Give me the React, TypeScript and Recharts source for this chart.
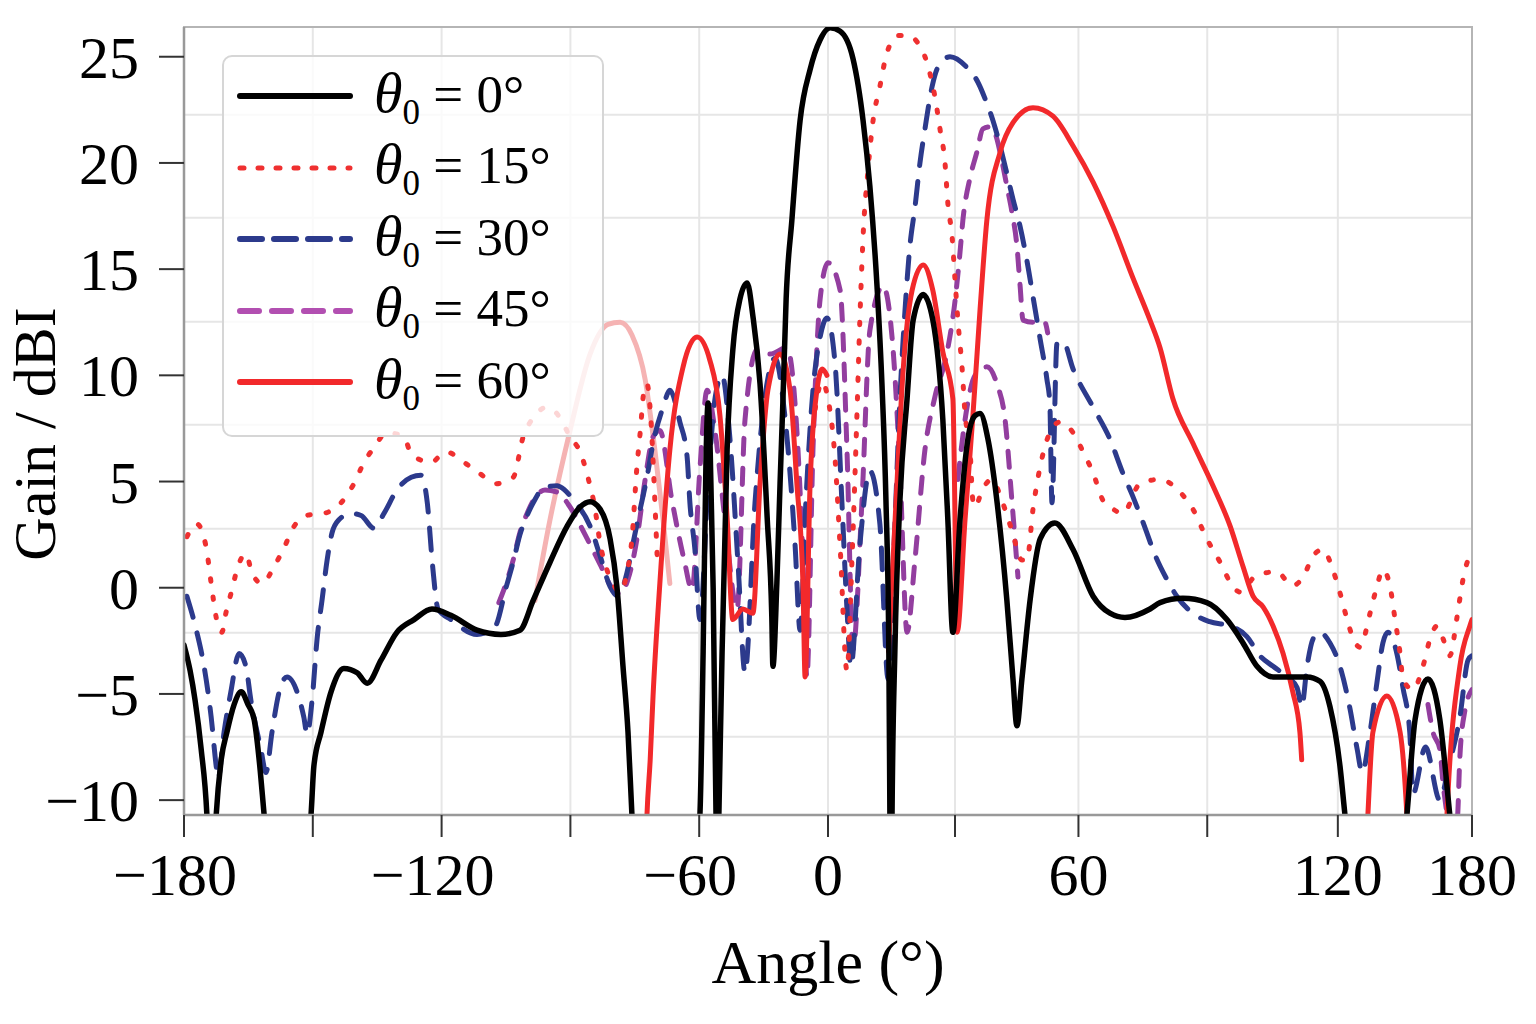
import React from 'react';
import { LineChart, Line, XAxis, YAxis, CartesianGrid, Legend, ReferenceArea } from 'recharts';

const FONT = '"Liberation Serif", "Times New Roman", serif';

const xTicks = [-180, -144, -108, -72, -36, 0, 35.5, 70, 106, 142.5, 180];
const xTickLabels = ['\u2212180', '', '\u2212120', '', '\u221260', '0', '', '60', '', '120', '180'];
const yTicks = [-10, -5, 0, 5, 10, 15, 20, 25];
const yTickLabels = ['\u221210', '\u22125', '0', '5', '10', '15', '20', '25'];
const gridY = [22.27, 17.42, 12.52, 7.67, 2.78, -2.12, -7.02];
const yDomain = [-10.7, 26.4];

type P = [number, number | null];

const theta0: P[] = [[-180,-2.7],[-178.3,-3.9],[-176.9,-5.3],[-175.2,-7.6],[-173.6,-10.7],[-172.4,-16],[-171.0,-10.7],[-169.6,-8.1],[-168.0,-6.8],[-166.0,-5.5],[-164.0,-4.9],[-162.1,-5.5],[-160.4,-6.2],[-158.7,-8.6],[-157.6,-10.7],[-151,-18],[-144.5,-10.7],[-143.7,-8.4],[-141.7,-6.8],[-138.9,-4.9],[-135.3,-3.8],[-131.6,-4.0],[-128.8,-4.5],[-124.9,-3.4],[-120.5,-2.1],[-115.7,-1.5],[-110.7,-1.0],[-105.4,-1.3],[-98.1,-2.0],[-91.4,-2.2],[-86.1,-2.0],[-82.4,-0.6],[-77.7,1.2],[-72.9,2.9],[-69.3,3.8],[-66.5,4.05],[-63.7,3.7],[-60.9,2.3],[-59.0,0.05],[-57.3,-3.7],[-55.9,-6.8],[-54.8,-10.7],[-45,-28],[-35.8,-10.7],[-34.9,-3],[-34.1,6],[-33.5,8.7],[-33.0,7],[-32.1,0],[-31.3,-10.7],[-30.9,-14],[-30.5,-10.7],[-29.6,-3],[-28.2,6.5],[-26.6,11.2],[-24.6,13.6],[-22.6,14.35],[-21.0,12.8],[-19.0,9.6],[-17.0,3.3],[-15.7,-1.4],[-15.4,-3.7],[-14.3,0.2],[-13.4,4.9],[-12.6,8.8],[-11.7,13.6],[-10.1,17.3],[-7.8,22.0],[-5.0,24.4],[-2.2,25.8],[0.6,26.36],[3.4,26.2],[7.0,24.9],[9.8,22.0],[11.7,18.9],[13.7,14.2],[15.1,9.5],[16.2,4.1],[17.0,-2.9],[17.3,-10.7],[17.6,-18],[17.9,-10.7],[18.7,-2.9],[20.1,4.1],[22.1,8.9],[23.8,12.6],[26.6,13.8],[29.3,12.6],[32.1,7.9],[33.5,3.2],[34.9,-2.1],[36.9,3.2],[39.1,7.0],[41.1,8.1],[42.5,8.2],[44.7,7.0],[47.2,4.1],[50.0,-0.6],[51.7,-4.3],[52.8,-6.5],[54.2,-4.3],[56.5,-0.56],[59.3,2.3],[63.4,3.05],[68.5,1.8],[74.1,-0.4],[78.8,-1.2],[83.0,-1.4],[90.0,-1.0],[92.8,-0.7],[99.2,-0.5],[105.9,-0.7],[111.5,-1.5],[116.0,-2.6],[119.9,-3.7],[124.4,-4.2],[133.9,-4.2],[137.5,-4.4],[140.3,-5.6],[143.1,-8.4],[144.5,-10.7],[153.2,-20],[161.8,-10.7],[164.1,-6.2],[167.7,-4.3],[171.0,-6.2],[173.8,-10.7],[176.9,-16],[180,-13]];

const theta15: P[] = [[-179.2,2.4],[-176.4,3.0],[-173.8,1.9],[-172.4,0.2],[-171.0,-1.4],[-169.4,-2.1],[-168.3,-1.2],[-166.6,-0.1],[-165.2,0.85],[-162.7,1.6],[-161.0,0.7],[-158.2,0.2],[-154.8,1.0],[-152.0,1.9],[-149.2,2.9],[-145.9,3.4],[-140.9,3.5],[-136.1,4.0],[-132.5,4.9],[-129.7,5.9],[-126.9,6.6],[-123.3,7.3],[-118.5,7.1],[-116.5,6.3],[-111.0,5.9],[-106.8,6.4],[-101.7,5.9],[-97.5,5.4],[-92.8,4.9],[-88.0,5.2],[-85.2,7.1],[-82.4,8.0],[-78.5,8.5],[-74.9,8.0],[-72.1,7.1],[-69.3,6.4],[-67.1,5.2],[-65.1,3.7],[-63.7,2.1],[-61.8,0.85],[-59.8,0.1],[-58.1,-0.2],[-56.2,0.7],[-54.8,2.3],[-53.4,5.7],[-52.5,7.3],[-51.4,9.3],[-50.6,9.6],[-49.5,7.9],[-48.4,4.1],[-47.6,0.8],[-30,null],[-3.6,8.4],[-1.7,9.7],[0,8.9],[2.0,6.0],[3.4,1.9],[5.3,-3.9],[6.7,1.3],[8.1,8.2],[8.9,12.6],[9.8,16.5],[11.2,19.7],[12.6,22.0],[14.5,23.6],[16.5,25.2],[19.6,26.0],[22.4,26.0],[24.9,25.7],[27.7,24.7],[29.9,23.1],[31.3,21.6],[32.7,20.0],[33.5,18.1],[34.7,16.5],[35.5,14.5],[36.3,12.6],[37.5,10.3],[38.3,8.2],[39.7,6.5],[40.5,4.1],[41.1,3.8],[43.1,4.6],[45.8,5.1],[48.6,4.1],[51.4,2.7],[54.2,1.3],[55.6,1.3],[57.3,3.7],[59.3,5.7],[62.0,7.3],[64.8,7.8],[68.5,7.3],[71.3,6.4],[74.1,5.4],[76.9,4.1],[79.7,3.7],[82.4,3.5],[87.2,4.9],[92.8,5.1],[98.4,4.5],[102.0,3.7],[105.9,2.3],[109.6,1.2],[113.2,0.05],[115.1,-0.2],[119.9,0.6],[125.5,0.75],[129.7,0.1],[132.8,0.5],[135.6,1.5],[138.3,1.8],[141.1,0.85],[143.1,-0.24],[145.1,-1.5],[146.8,-2.4],[148.7,-2.8],[151.5,-1.2],[153.4,0.05],[155.1,0.85],[157.1,0.05],[158.5,-1.5],[159.9,-3.1],[160.7,-4.3],[163.5,-4.8],[166.3,-3.7],[168.3,-2.4],[170.2,-1.8],[171.9,-2.4],[173.8,-3.2],[175.8,-1.4],[177.5,0.4],[178.9,1.3],[180,1.5]];

const theta30: P[] = [[-179.2,-0.4],[-176.4,-2.1],[-174.4,-3.7],[-172.4,-6.1],[-171.0,-8.4],[-170.5,-9.0],[-168.8,-6.8],[-166.9,-4.9],[-164.6,-3.1],[-162.7,-3.7],[-161.3,-5.3],[-158.5,-7.6],[-157.1,-8.7],[-155.4,-6.8],[-153.4,-4.9],[-151.2,-4.2],[-148.4,-4.9],[-146.5,-6.1],[-145.6,-6.9],[-144.2,-5.3],[-142.8,-2.4],[-141.4,-0.56],[-140.0,1.3],[-138.6,2.6],[-136.7,3.2],[-133.3,3.5],[-130.5,3.4],[-126.9,2.8],[-124.1,3.5],[-120.5,4.6],[-116.5,5.2],[-113.8,5.3],[-112.0,4.0],[-110.5,1.0],[-109,-1.0],[-105.4,-1.5],[-98.1,-2.2],[-93,-1.8],[-90.0,0.0],[-88.0,1.2],[-86.1,2.5],[-84.1,3.4],[-82.4,4.0],[-79.1,4.75],[-75.7,4.8],[-74.9,4.75],[-71.0,4.1],[-66.5,2.9],[-63.7,1.5],[-60.9,0.05],[-58.7,-0.4],[-56.2,0.7],[-54.5,2.1],[-52.5,3.7],[-50.6,5.2],[-48.9,6.8],[-46.1,8.5],[-44.2,9.3],[-41.4,7.8],[-39.4,6.2],[-38.6,4.0],[-37.2,1.8],[-35.8,-1.5],[-33.5,5],[-31.5,9],[-29.6,10],[-27.4,7],[-25.1,1],[-23.2,-4],[-20.4,4],[-17.6,9],[-14.8,10.8],[-12.0,8],[-9.2,2],[-7.8,-2],[-6.2,4],[-4.2,9.3],[-2.2,11.8],[-0.3,12.7],[2.0,10.5],[3.9,4.0],[5.3,-1.0],[6.4,-3.7],[8.9,2],[11.7,5.5],[14.5,3],[16.8,-4.3],[18.7,3],[20.1,8.9],[21.5,13],[22.9,16.1],[24.3,17.9],[25.7,20.0],[27.1,21.6],[29.1,23.6],[30.7,24.5],[34.1,25.0],[38.8,24.5],[41.9,23.8],[44.4,22.8],[46.1,22.0],[48.1,20.8],[50.0,19.5],[51.7,18.3],[53.7,17.0],[55.6,15.4],[57.3,13.7],[59.3,11.7],[61.2,9.8],[62.0,8.7],[62.6,4.0],[64.0,11.5],[65.7,11.6],[68.5,10.3],[74.1,8.5],[78.8,7.0],[82.4,5.4],[85.2,4.3],[89.1,2.6],[90.8,1.8],[94.7,0.4],[97.5,-0.4],[102.0,-1.2],[106.7,-1.6],[112.4,-1.8],[117.1,-2.3],[120.7,-3.2],[124.4,-3.7],[128.3,-4.2],[131.1,-4.7],[132.4,-5.6],[133.9,-3.7],[135.6,-2.4],[137.5,-2.1],[140.3,-2.6],[143.1,-3.7],[145.9,-5.7],[147.9,-7.6],[149.3,-8.7],[151.5,-6.8],[153.4,-4.5],[155.1,-2.6],[156.5,-2.1],[159.0,-3.1],[160.7,-4.7],[162.6,-6.8],[163.5,-9.7],[167.0,-7.5],[171.0,-10],[173.5,-8.4],[176.6,-6.1],[178.9,-3.4],[180,-3.2]];

const theta45: P[] = [[-92.0,-0.7],[-90.0,0.2],[-88.0,1.3],[-86.1,2.6],[-84.1,3.5],[-82.4,4.1],[-79.1,4.6],[-75.7,4.5],[-72.1,3.8],[-67.9,2.5],[-63.7,1.1],[-60.4,0.0],[-58.1,-0.3],[-55.9,0.4],[-53.4,2.3],[-51.1,5.1],[-48.9,7.1],[-47.0,7.4],[-43.6,4.1],[-40.2,1.3],[-38.0,-0.1],[-35.8,5.6],[-33.8,9.3],[-31.6,7.4],[-28.8,3.2],[-25.4,-1.0],[-23.2,7.9],[-19.8,11.2],[-16.2,11.0],[-11.5,11.3],[-8.7,7.4],[-7.0,1.3],[-5.9,-4.2],[-4.2,6.5],[-2.2,13.6],[0,15.3],[3.4,14.0],[5.3,6.5],[7.0,-2.9],[9.5,4.1],[11.7,12.1],[15.4,14.2],[18.2,11.2],[20.1,5.6],[22.1,-2.1],[24.3,1.3],[27.1,6.5],[29.9,9],[33.3,11.1],[35.5,13.5],[36.9,15.8],[37.7,17.3],[39.7,19.3],[41.6,20.5],[43.3,21.6],[45.3,21.7],[46.7,21.4],[48.6,20.1],[50.0,18.9],[51.4,17.7],[52.8,16.1],[53.7,14.2],[54.5,12.6],[57.3,12.5],[60.6,12.5],[61.4,12.0],[120,null],[167.7,-5.5],[169.1,-6.8],[171.0,-7.6],[171.9,-9.2],[173.0,-10.7],[174.4,-13],[176.0,-10.7],[176.6,-8],[178.0,-5.8],[180,-4.8]];

const theta45Hump: P[] = [[36.3,5.1],[38.3,7.9],[41.1,10.0],[44.4,10.4],[47.2,9.6],[49.5,7.9],[51.4,4.1],[53.1,0.5]];

const theta60: P[] = [[-51.5,-16],[-50.6,-10.7],[-49.7,-8.1],[-48.9,-5.1],[-47.0,0.2],[-44.2,6.5],[-40.5,10.4],[-36.6,11.8],[-33.0,10.7],[-30.2,8.1],[-28.2,3.3],[-26.6,-1.5],[-23.8,-1.0],[-21.0,-1.2],[-19.0,4.9],[-16.8,9.3],[-13.4,11.0],[-10.6,9.3],[-8.7,4.9],[-7.0,0.2],[-6.4,-4.2],[-5.0,4.9],[-3.1,9.3],[-1.6,10.3],[-0.3,10.0],[8,null],[16.9,-3.0],[17.6,-0.6],[19.0,4],[20.9,10],[23.5,14.0],[26.6,15.2],[29.3,14.0],[32.1,11.1],[34.9,8.9],[36.1,-2.1],[38.3,3.2],[40.5,8.1],[42.5,13.1],[44.4,17.3],[48.1,20.5],[51.7,21.9],[57.3,22.6],[62.9,22.2],[68.5,20.8],[74.1,19.1],[79.7,17.0],[85.2,14.6],[90.0,12.6],[92.8,11.3],[96.4,8.9],[102.0,6.8],[107.6,4.8],[112.4,2.9],[116.0,1.0],[118.8,-0.4],[121.6,-0.9],[124.4,-1.8],[127.2,-3.1],[129.9,-4.9],[131.9,-6.8],[132.4,-8.1],[140,null],[150.0,-14],[150.9,-10.7],[152.3,-6.8],[156.2,-5.1],[159.9,-6.8],[161.8,-10.7],[162.7,-14],[168,null],[172.2,-14],[173.0,-10.7],[176.6,-3.7],[179.4,-1.8],[180,-1.5]];

const theta60Ghost: P[] = [[-81.9,-0.6],[-77.7,3.2],[-72.1,7.4],[-66.5,11.0],[-61.5,12.4],[-58.1,12.5],[-54.8,11.9],[-51.1,9.8],[-48.4,6.5],[-46.1,3.2],[-44.2,0.2]];

const toData = (arr: P[]) => arr.map(([a, v]) => ({ a, v }));

const series = [
  { key: 'g60', data: theta60Ghost, color: '#f5b3b3', width: 5, dash: undefined as string | undefined },
  { key: 't45', data: theta45, color: '#933e9f', width: 5, dash: '16 14' },
  { key: 't45h', data: theta45Hump, color: '#933e9f', width: 5, dash: '16 14' },
  { key: 't30', data: theta30, color: '#2c3a8c', width: 5, dash: '22 16' },
  { key: 't15', data: theta15, color: '#ef3030', width: 5, dash: '2.5 16' },
  { key: 't60', data: theta60, color: '#f2292b', width: 5, dash: undefined },
  { key: 't0', data: theta0, color: '#000000', width: 5.5, dash: undefined },
];

const legendItems = [
  { label: '0°', color: '#000000', dash: undefined as string | undefined, width: 6 },
  { label: '15°', color: '#ef3030', dash: '4 14', width: 5 },
  { label: '30°', color: '#2c3a8c', dash: '22 12', width: 6 },
  { label: '45°', color: '#b24fb1', dash: '19 13', width: 6 },
  { label: '60°', color: '#f2292b', dash: undefined, width: 6 },
];

const renderLegend = () => (
  <div style={{ position: 'relative', width: 382, height: 382, boxSizing: 'border-box', border: '2.5px solid #d6d6d6', borderRadius: 10, background: 'rgba(255,255,255,0.8)' }}>
    {legendItems.map((it, i) => (
      <div key={i} style={{ position: 'absolute', left: 0, top: 3 + i * 71.5, height: 72, width: 380, display: 'flex', alignItems: 'center' }}>
        <svg width={120} height={14} style={{ marginLeft: 12, display: 'block' }}>
          <line x1={4} y1={7} x2={114} y2={7} stroke={it.color} strokeWidth={it.width} strokeDasharray={it.dash} strokeLinecap="round" />
        </svg>
        <span style={{ marginLeft: 18, fontFamily: FONT, fontSize: 53, lineHeight: '53px', color: '#000', whiteSpace: 'nowrap' }}>
          <i style={{ fontSize: 58 }}>θ</i><span style={{ fontSize: 35, position: 'relative', top: 12 }}>0</span>
          <span> = {it.label}</span>
        </span>
      </div>
    ))}
  </div>
);

const XTick = (props: any) => {
  const { x, y, payload } = props;
  const idx = xTicks.indexOf(payload.value);
  const label = idx >= 0 ? xTickLabels[idx] : '';
  const dx = label.startsWith('\u2212') ? -9 : 0;
  return (
    <text x={x + dx} y={y} dy={58} textAnchor="middle" fontFamily={FONT} fontSize={60} fill="#000">{label}</text>
  );
};

const YTick = (props: any) => {
  const { x, y, payload } = props;
  const idx = yTicks.indexOf(payload.value);
  const label = idx >= 0 ? yTickLabels[idx] : '';
  return (
    <text x={x - 20} y={y} dy={21} textAnchor="end" fontFamily={FONT} fontSize={60} fill="#000">{label}</text>
  );
};

export default function App() {
  return (
    <div style={{ position: 'absolute', left: 0, top: 0, width: 1536, height: 1024, background: '#fff' }}>
      <LineChart width={1536} height={1024} margin={{ top: 27, right: 64, bottom: 0, left: 0 }}>
        <CartesianGrid stroke="#e6e6e6" strokeWidth={2} horizontalValues={gridY} verticalValues={xTicks} />
        <ReferenceArea x1={-180} x2={180} y1={yDomain[0]} y2={yDomain[1]} fill="none" stroke="#b5b5b5" strokeWidth={2} ifOverflow="visible" />
        <XAxis
          type="number"
          dataKey="a"
          domain={[-180, 180]}
          ticks={xTicks}
          interval={0}
          allowDataOverflow
          height={209}
          tickSize={22}
          tickMargin={0}
          tick={<XTick />}
          tickLine={{ stroke: '#333', strokeWidth: 2 }}
          axisLine={{ stroke: '#999', strokeWidth: 2.5 }}
          label={() => (
            <text x={828} y={983} textAnchor="middle" fontFamily={FONT} fontSize={62} fill="#000">Angle (°)</text>
          )}
        />
        <YAxis
          type="number"
          domain={yDomain}
          ticks={yTicks}
          interval={0}
          allowDataOverflow
          width={184}
          tickSize={25}
          tickMargin={0}
          tick={<YTick />}
          tickLine={{ stroke: '#333', strokeWidth: 2 }}
          axisLine={{ stroke: '#999', strokeWidth: 2.5 }}
          label={() => (
            <text x={55} y={434} transform="rotate(-90 55 434)" textAnchor="middle" fontFamily={FONT} fontSize={60} fill="#000">Gain / dBI</text>
          )}
        />
        {series.map((s) => (
          <Line
            key={s.key}
            data={toData(s.data)}
            dataKey="v"
            type="monotone"
            stroke={s.color}
            strokeWidth={s.width}
            strokeDasharray={s.dash}
            strokeLinecap="round"
            strokeLinejoin="round"
            dot={false}
            activeDot={false}
            connectNulls={false}
            isAnimationActive={false}
            legendType="none"
          />
        ))}
        <Legend
          layout="horizontal"
          verticalAlign="middle"
          align="center"
          content={renderLegend}
          wrapperStyle={{ left: 222, top: 55, width: 382, height: 382 }}
        />
      </LineChart>
    </div>
  );
}
